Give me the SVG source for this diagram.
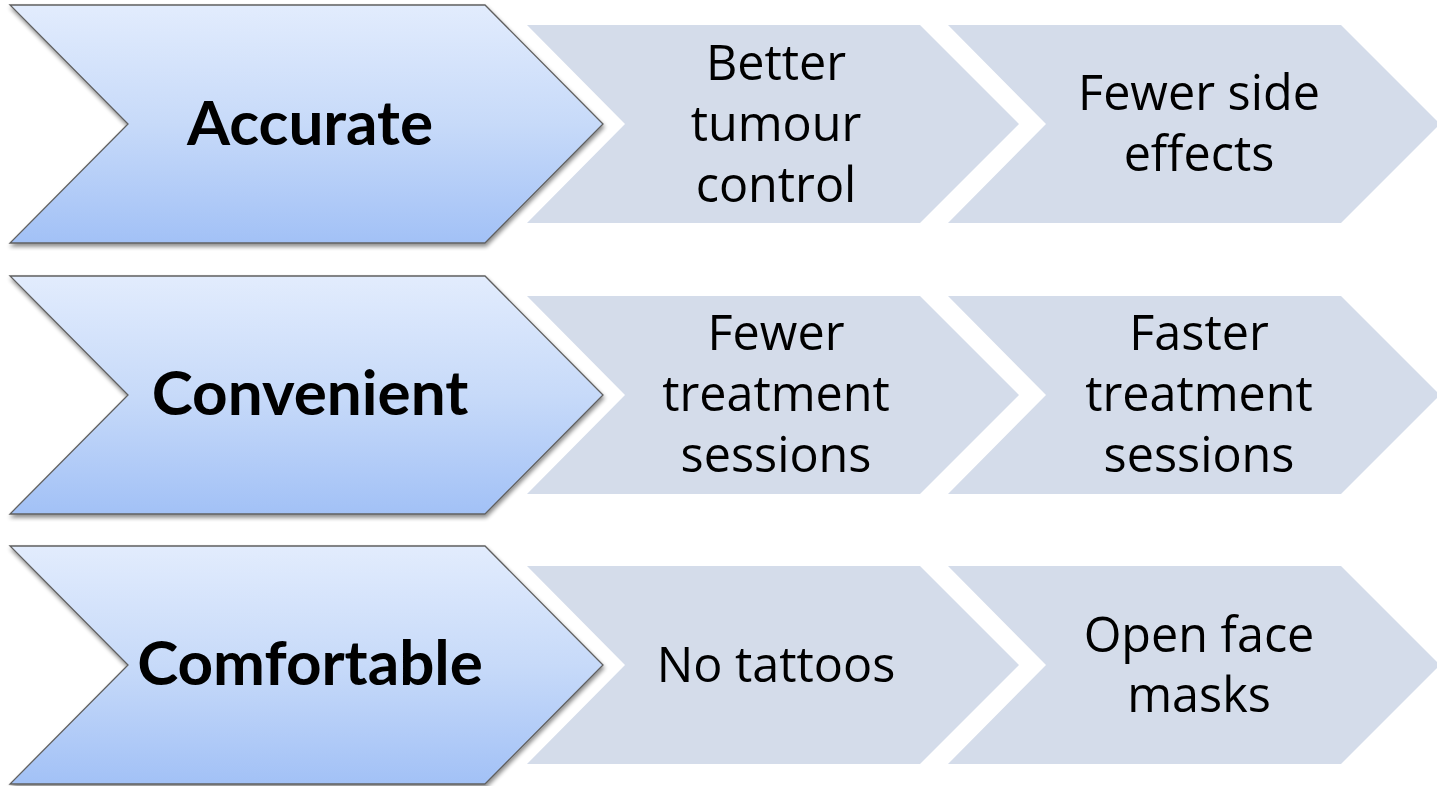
<svg xmlns="http://www.w3.org/2000/svg" width="1437" height="786" viewBox="0 0 1437 786">
<defs>
<linearGradient id="blue" x1="0" y1="0" x2="0" y2="1">
<stop offset="0" stop-color="#e2ecfd"/>
<stop offset="0.5" stop-color="#c7daf9"/>
<stop offset="1" stop-color="#a2c1f6"/>
</linearGradient>
<filter id="sh" x="-5%" y="-5%" width="115%" height="115%">
<feGaussianBlur in="SourceAlpha" stdDeviation="2"/>
<feOffset dx="1" dy="3" result="b"/>
<feComponentTransfer><feFuncA type="linear" slope="0.45"/></feComponentTransfer>
<feMerge><feMergeNode/><feMergeNode in="SourceGraphic"/></feMerge>
</filter>
<path id="bch" d="M10,5 H485 L603,124 L485,243 H10 L128,124 Z"/>
<path id="gch" d="M0,0 H393 L492,99 L393,198 H0 L98,99 Z"/>
</defs>
<style>
.b{fill:url(#blue);stroke:#606060;stroke-width:1.3}
.g{fill:#d4dcea}
.bt{font-family:Lato,"Open Sans",sans-serif;font-weight:bold;font-size:62px;fill:#000;text-anchor:middle}
.gt{font-family:"Open Sans",Lato,sans-serif;font-size:48.5px;fill:#000;text-anchor:middle}
</style>
<g id="connectors"/>
<g id="row1">
<g id="accurate"><use href="#bch" class="b" filter="url(#sh)"/><text class="bt" x="310" y="145">Accurate</text></g>
<g id="better-tumour-control"><use href="#gch" class="g" x="527" y="25"/><text class="gt" x="776" y="80">Better</text><text class="gt" x="776" y="141">tumour</text><text class="gt" x="776" y="202">control</text></g>
<g id="fewer-side-effects"><use href="#gch" class="g" x="948" y="25"/><text class="gt" x="1199" y="110">Fewer side</text><text class="gt" x="1199" y="171">effects</text></g>
</g>
<g id="row2">
<g id="convenient"><use href="#bch" class="b" filter="url(#sh)" y="271"/><text class="bt" x="310" y="415">Convenient</text></g>
<g id="fewer-treatment-sessions"><use href="#gch" class="g" x="527" y="296"/><text class="gt" x="776" y="350">Fewer</text><text class="gt" x="776" y="411">treatment</text><text class="gt" x="776" y="472">sessions</text></g>
<g id="faster-treatment-sessions"><use href="#gch" class="g" x="948" y="296"/><text class="gt" x="1199" y="350">Faster</text><text class="gt" x="1199" y="411">treatment</text><text class="gt" x="1199" y="472">sessions</text></g>
</g>
<g id="row3">
<g id="comfortable"><use href="#bch" class="b" filter="url(#sh)" y="541"/><text class="bt" x="310" y="685">Comfortable</text></g>
<g id="no-tattoos"><use href="#gch" class="g" x="527" y="566"/><text class="gt" x="776" y="682">No tattoos</text></g>
<g id="open-face-masks"><use href="#gch" class="g" x="948" y="566"/><text class="gt" x="1199" y="652">Open face</text><text class="gt" x="1199" y="712">masks</text></g>
</g>
</svg>
